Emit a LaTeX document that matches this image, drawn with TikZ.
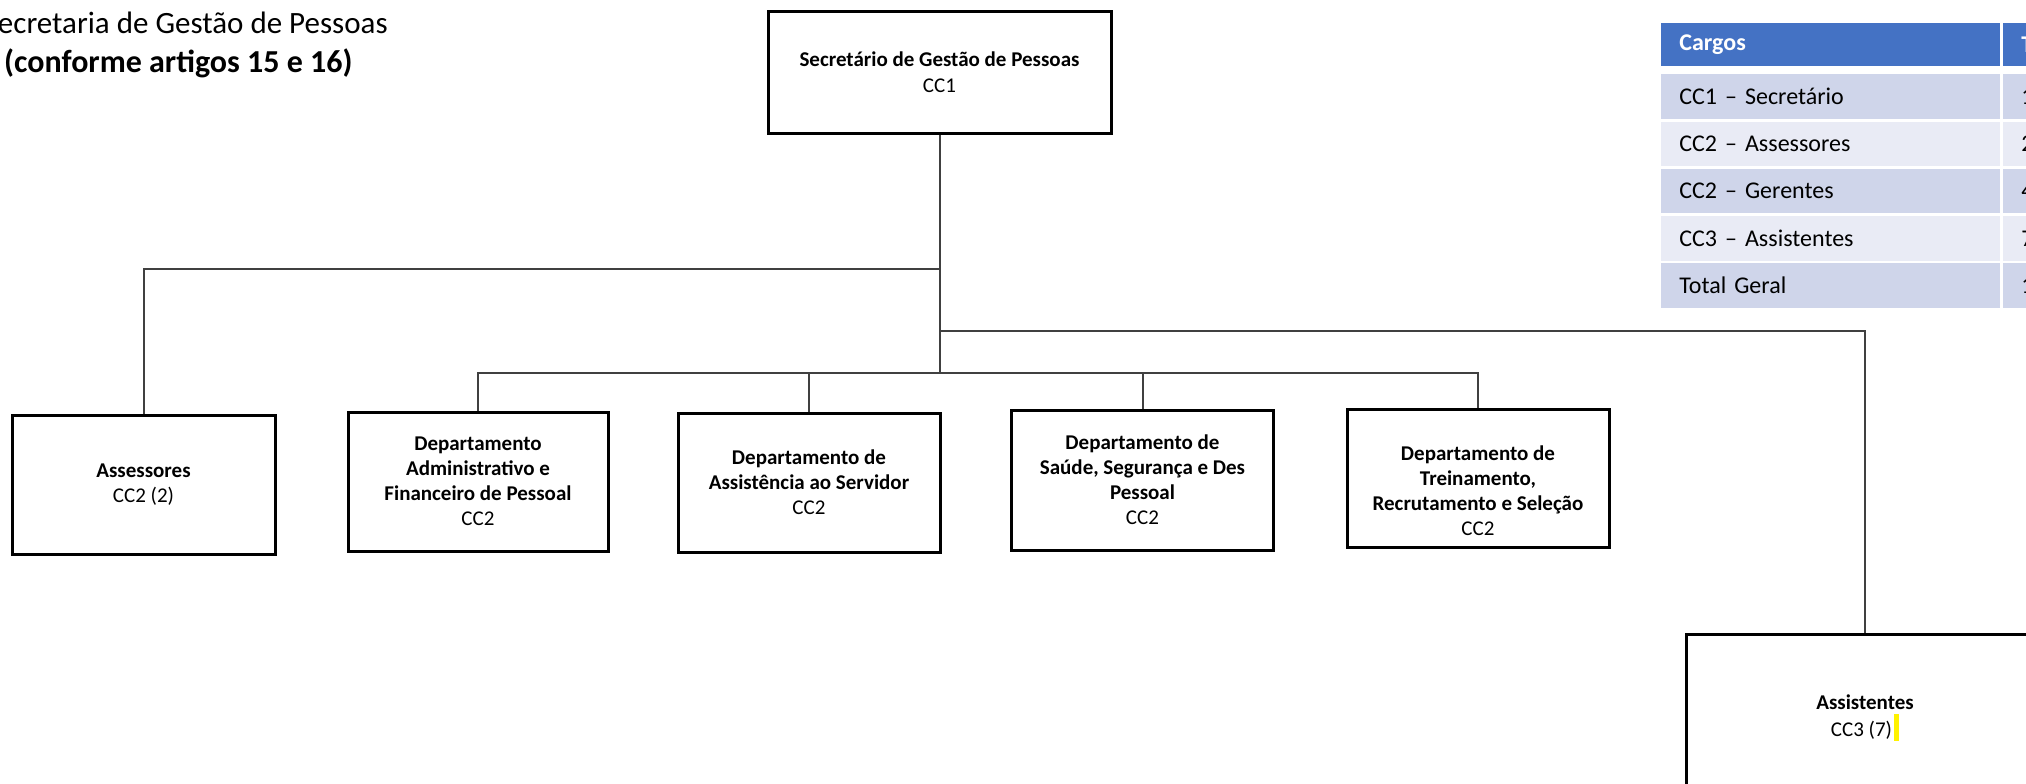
\documentclass[tikz,border=0pt]{standalone}
\usepackage{fontspec}
\setmainfont{Carlito}
\usepackage{xcolor}
\usepackage{tikz}
\usetikzlibrary{positioning}
\definecolor{cabecalho}{HTML}{4472C4}
\definecolor{linhaA}{HTML}{CFD5EA}
\definecolor{linhaB}{HTML}{E9EBF5}
\definecolor{conector}{HTML}{404040}

\begin{document}
\begin{tikzpicture}[
    x=0.5pt, y=-0.5pt,
    cargo/.style={
        % The shape:
        rectangle,
        minimum width=131pt,
        minimum height=69.5pt,
        % The border
        line width=1.5pt,
        draw=black,
        fill=white,
        % The fonts
        align=center,
        font=\fontsize{10.5}{12.5}\selectfont},
    link/.style={draw=conector, line width=1pt},
    celula/.style={
        rectangle,
        anchor=north west,
        minimum height=22.25pt,
        inner xsep=9pt,
        align=left,
        font=\fontsize{12}{14}\selectfont}
  ]
  \useasboundingbox (0,0) rectangle (2026,783);
  \clip (0,0) rectangle (2026,783);

  % titulo
  \node (titulo) [anchor=base east, inner sep=0pt, font=\fontsize{15.5}{19}\selectfont] at (388,33) {Secretaria de Gestão de Pessoas};
  \node (artigos) [anchor=base east, inner sep=0pt, font=\fontsize{16}{19}\selectfont\bfseries] at (353,72) {(conforme artigos 15 e 16)};

  % caixas
  \node (secretario) [cargo, minimum width=171.5pt, minimum height=61pt, font=\fontsize{10.5}{13}\selectfont] at (939.5,72)
    {\textbf{Secretário de Gestão de Pessoas}\\CC1};
  \node (assessores) [cargo, minimum width=131.5pt] at (143.5,485) {\textbf{Assessores}\\CC2 (2)};
  \node (admfin) [cargo, minimum width=130pt] at (478,481.5)
    {\textbf{Departamento}\\\textbf{Administrativo e}\\\textbf{Financeiro de Pessoal}\\CC2};
  \node (servidor) [cargo] at (809,482.5)
    {\textbf{Departamento de}\\\textbf{Assistência ao Servidor}\\CC2};
  \node (saude) [cargo, minimum height=70pt] at (1142.5,480)
    {\textbf{Departamento de}\\\textbf{Saúde, Segurança e Des}\\\textbf{Pessoal}\\CC2};
  \node (treinamento) [cargo, minimum height=69pt] at (1478,478)
    {\rule{0pt}{7.4pt}\\\textbf{Departamento de}\\\textbf{Treinamento,}\\\textbf{Recrutamento e Seleção}\\CC2};
  \node (assistentes) [cargo, minimum width=179pt, minimum height=84pt, font=\fontsize{10.5}{13.5}\selectfont] at (1865,718)
    {\textbf{Assistentes}\\CC3 (7)\hspace{1pt}\textcolor{yellow}{\rule[-2pt]{2.5pt}{13.5pt}}};

  % ligacoes
  \coordinate (ramoA) at (939.5,269);
  \coordinate (ramoB) at (939.5,331);
  \coordinate (ramoC) at (939.5,373);
  \draw [link] (secretario) -- (ramoC);
  \draw [link] (ramoA) -| (assessores.north);
  \draw [link] (ramoB) -| (assistentes.north);
  \draw [link] (admfin.north) |- (ramoC) -| (treinamento.north);
  \draw [link] (servidor.north) -- (servidor.north |- ramoC);
  \draw [link] (saude.north) -- (saude.north |- ramoC);

  % tabela
  \node (cargos) [celula, fill=cabecalho, text=white, text width=151.5pt, minimum height=21.5pt, font=\fontsize{12}{14}\selectfont\bfseries] at (1661,23) {Cargos};
  \node (total) [celula, fill=cabecalho, text=white, text width=40pt, minimum height=21.5pt, font=\fontsize{12}{14}\selectfont\bfseries] at (2003,23) {T};
  \foreach \y/\cargo/\qtd/\cor [count=\i] in {
      74/CC1 – Secretário/1/linhaA,
      121.25/CC2 – Assessores/2/linhaB,
      168.5/CC2 – Gerentes/4/linhaA,
      215.75/CC3 – Assistentes/7/linhaB,
      263/Total Geral/1/linhaA}{
    \node (cargo\i) [celula, fill=\cor, text width=151.5pt] at (1661,\y) {\cargo};
    \node (qtd\i) [celula, fill=\cor, text width=40pt] at (2003,\y) {\qtd};
  }
\end{tikzpicture}
\end{document}
